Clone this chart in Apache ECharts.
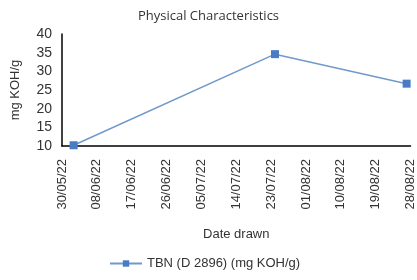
<!DOCTYPE html>
<html>
<head>
<meta charset="utf-8">
<script src="https://cdn.jsdelivr.net/npm/echarts@6/dist/echarts.min.js"></script>
<style>
  html, body { margin: 0; padding: 0; background: #fff; }
  #main { width: 417px; height: 280px; }
</style>
</head>
<body>
<div id="main"></div>
<script>
// sample dates (dd/mm/yy) and TBN values
var sampleDates = ["02/06/22", "24/07/22", "27/08/22"]
var tbnValues = [10.2, 34.6, 26.7]
var axisStart = "30/05/22"
var axisEnd = "28/08/22"
var tickDays = 9
var yTicks = [10, 15, 20, 25, 30, 35, 40]

function parseDate(s) {
  var p = s.split("/")
  return Date.UTC(2000 + Number(p[2]), Number(p[1]) - 1, Number(p[0]))
}
var DAY = 86400000
var start = parseDate(axisStart)
function dayOffset(s) {
  return Math.round((parseDate(s) - start) / DAY)
}
function fmt(v) {
  var d = new Date(start + v * DAY)
  var dd = ("0" + d.getUTCDate()).slice(-2)
  var mm = ("0" + (d.getUTCMonth() + 1)).slice(-2)
  var yy = ("0" + (d.getUTCFullYear() % 100)).slice(-2)
  return dd + "/" + mm + "/" + yy
}

var chart = echarts.init(document.getElementById("main"))
var axisFont = "Liberation Sans, Arial, sans-serif"
var option = {
  animation: false,
  title: {
    text: "Physical Characteristics",
    left: "center",
    top: 5,
    textStyle: { fontFamily: "Open Sans, sans-serif", fontSize: 13, fontWeight: "normal", color: "#333" }
  },
  legend: {
    bottom: 5,
    left: 104,
    itemWidth: 32,
    itemHeight: 8,
    itemGap: 4,
    textStyle: { fontFamily: axisFont, fontSize: 13, color: "#333" },
    data: ["TBN (D 2896) (mg KOH/g)"]
  },
  grid: { left: 62, right: 4, top: 34, bottom: 134 },
  xAxis: {
    type: "value",
    min: 0,
    max: dayOffset(axisEnd),
    interval: tickDays,
    name: "Date drawn",
    nameLocation: "middle",
    nameGap: 82,
    nameTextStyle: { fontFamily: axisFont, fontSize: 13, color: "#333" },
    axisLine: { show: true, lineStyle: { color: "#000", width: 1.5 } },
    axisTick: { show: false },
    splitLine: { show: false },
    axisLabel: {
      rotate: 90,
      margin: 13,
      fontFamily: axisFont,
      fontSize: 13,
      color: "#333",
      formatter: fmt
    }
  },
  yAxis: {
    type: "value",
    min: yTicks[0],
    max: yTicks[yTicks.length - 1],
    interval: yTicks[1] - yTicks[0],
    name: "mg KOH/g",
    nameLocation: "middle",
    nameGap: 40,
    nameTextStyle: { fontFamily: axisFont, fontSize: 13, color: "#333" },
    axisLine: { show: true, lineStyle: { color: "#000", width: 1.5 } },
    axisTick: { show: false },
    splitLine: { show: false },
    axisLabel: { fontFamily: axisFont, fontSize: 14, color: "#333", margin: 10 }
  },
  series: [
    {
      name: "TBN (D 2896) (mg KOH/g)",
      type: "line",
      symbol: "rect",
      symbolSize: 8,
      itemStyle: { color: "#4a7cc4" },
      lineStyle: { color: "#7099cc", width: 1.5 },
      data: sampleDates.map(function (d, i) { return [dayOffset(d), tbnValues[i]] })
    }
  ]
}
chart.setOption(option)
</script>
</body>
</html>
